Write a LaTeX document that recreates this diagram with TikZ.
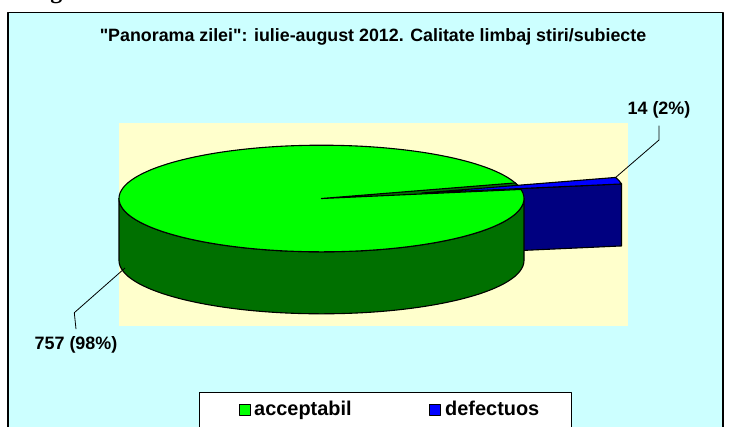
\documentclass[tikz,border=0pt]{standalone}
\usepackage{fontspec}
\setmainfont{Liberation Sans}[Ligatures=TeXOff]
\newfontfamily\legendefig{Liberation Serif}
\usetikzlibrary{positioning}

\definecolor{fondgraph}{RGB}{204,255,255}
\definecolor{fondzone}{RGB}{255,255,204}
\definecolor{vertclair}{RGB}{0,255,0}
\definecolor{vertfonce}{RGB}{0,112,0}
\definecolor{bleuclair}{RGB}{0,0,255}
\definecolor{bleufonce}{RGB}{0,0,128}

\tikzset{
  etiq/.style={font=\bfseries\fontsize{18}{20}\selectfont,inner sep=7bp},
  leg/.style={font=\bfseries\fontsize{20}{22}\selectfont,inner sep=0pt,anchor=base west},
  carre/.style={draw=black,minimum size=11bp,inner sep=0pt},
  part/.style={draw=black,line width=1.1bp}
}

\begin{document}
\begin{tikzpicture}[x=1bp,y=-1bp,line join=round]
\useasboundingbox (0,0) rectangle (730,426);
\clip (0,0) rectangle (730,426);

% legende de la figure (coupee)
\node[anchor=base west,inner sep=0pt,font=\legendefig\bfseries\fontsize{24}{26}\selectfont] (fig) at (29,-1.2) {Fig};

% cadre et zone
\filldraw[fill=fondgraph,line width=1.2bp] (8,12.7) rectangle (723,440);
\fill[fondzone] (119,123.3) rectangle (627.7,326);
\node[anchor=base,inner sep=0pt,font=\bfseries\fontsize{17.9}{20}\selectfont] (titre) at (373,41.7) {"Panorama zilei": iulie-august 2012. Calitate limbaj stiri/subiecte};

% part defectuos (detachee)
\fill[part,fill=bleufonce] (422,193) -- ++(-9.8:202.5 and 53.3) -- ++(0,62) -- (422,255) -- cycle;

% part acceptabil
\fill[part,fill=vertfonce] (119,198.5) -- (119,260.5) arc[start angle=180,end angle=0,x radius=202.5,y radius=53.3] -- (524,198.5) arc[start angle=0,end angle=180,x radius=202.5,y radius=53.3] -- cycle;
\fill[part,fill=vertclair] (321.5,198.5) ellipse[x radius=202.5,y radius=53.3];
\fill[part,fill=vertfonce] (321.5,198.5) -- ++(-9.8:202.5 and 53.3) arc[start angle=-9.8,end angle=-17,x radius=202.5,y radius=53.3] -- cycle;

% dessus defectuos
\fill[part,fill=bleuclair] (422,193) -- ++(-9.8:202.5 and 53.3) arc[start angle=-9.8,end angle=-17,x radius=202.5,y radius=53.3] coordinate (pb) -- cycle;

% etiquettes
\coordinate (pv) at (125,268);
\node[etiq,anchor=base] (lv) at (76,349.3) {757 (98\%)};
\node[etiq,anchor=base] (lb) at (659,114.7) {14 (2\%)};
\draw[line width=0.8bp] (pv) -- (74.3,312.7) -- (lv.north);
\draw[line width=0.8bp] (pb) -- (659,140) -- (lb.south);

% legende
\filldraw[fill=white,line width=1bp] (199,392.3) rectangle (571.7,440);
\node[carre,fill=vertclair] (cv) at (244.5,409.5) {};
\node[carre,fill=bleuclair] (cb) at (434.5,409.5) {};
\node[leg] (tv) at (254,415.7) {acceptabil};
\node[leg] (tb) at (445,415.7) {defectuos};
\end{tikzpicture}
\end{document}
